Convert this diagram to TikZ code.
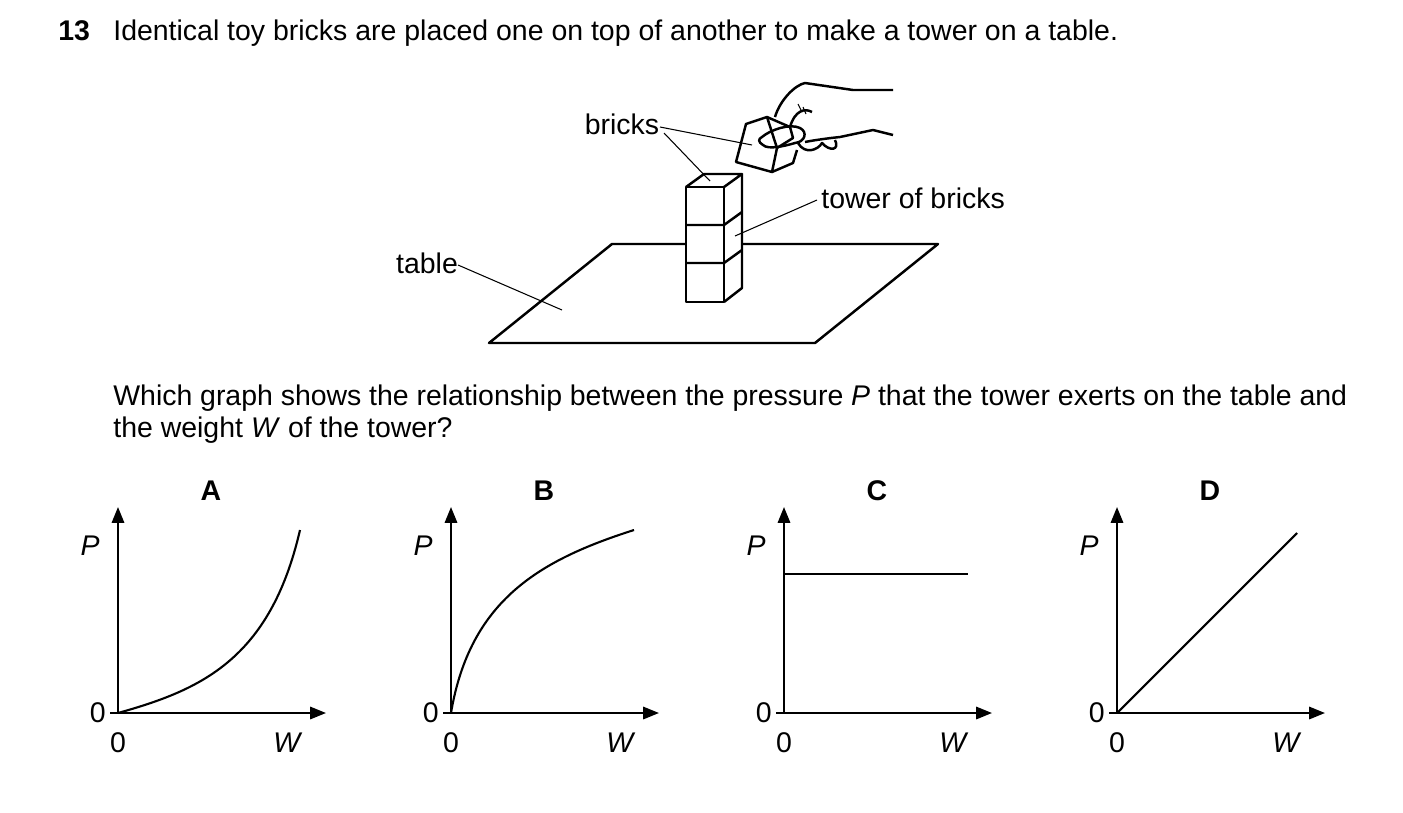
\documentclass[tikz,border=0pt]{standalone}
\usepackage{fontspec}
\setmainfont{Liberation Sans}
\usetikzlibrary{arrows.meta,calc}
\begin{document}
\begin{tikzpicture}[x=0.02cm,y=-0.02cm,
  txt/.style={font=\fontsize{16.2}{18.7}\selectfont, inner sep=0pt},
  lead/.style={line width=0.6pt},
  edge/.style={line width=1.4pt, line join=round},
  axis/.style={-{Triangle[length=9pt,width=7pt]}, line width=1.2pt},
  curve/.style={line width=1.2pt}
]
  \useasboundingbox (0,0) rectangle (1403,812);
  % heading and question
  \node[txt, anchor=base west] (num) at (58,40) {\textbf{13}};
  \node[txt, anchor=base west] (intro) at (113,40) {Identical toy bricks are placed one on top of another to make a tower on a table.};
  \node[txt, anchor=base west] (question) at (113,405)
    {\parbox[t]{24.68cm}{\fontsize{16.2}{18.7}\selectfont Which graph shows the relationship between the pressure \textit{P} that the tower exerts on the table and the weight \textit{W} of the tower?}};

  % table
  \draw[edge] (686,244) -- (612,244) -- (489,343) -- (815,343) -- (938,244) -- (742,244);
  % tower
  \draw[edge, fill=white] (686,187) rectangle (724,302);
  \draw[edge] (686,187) -- (704,174) -- (742,174) -- (724,187);
  \draw[edge] (742,174) -- (742,288) -- (724,302);
  \draw[edge] (686,225) -- (724,225) -- (742,212);
  \draw[edge] (686,263) -- (724,263) -- (742,250);
  % brick in hand
  \draw[edge, fill=white] (746,124) -- (767,117) -- (790,127) -- (793,138) -- (777,148) -- (772,172) -- (736,162) -- cycle;
  \draw[edge] (777,148) -- (767,117);
  \draw[edge] (772,172) -- (793,163) -- (797,150);
  % hand
  \draw[edge] (775,117) .. controls (780,100) and (795,85) .. (805,83) -- (853,90) -- (893,90);
  \draw[edge] (762,137) .. controls (770,130) and (790,123) .. (800,128)
    .. controls (808,132) and (805,142) .. (795,143) .. controls (785,146) and (768,150) .. (763,145)
    .. controls (758,142) and (758,139) .. (762,137);
  \draw[edge] (805,142) .. controls (815,140) and (830,138) .. (840,137) -- (873,130) -- (893,135);
  \draw[edge] (798,143) .. controls (805,155) and (818,150) .. (822,143) .. controls (830,152) and (840,150) .. (835,140);
  \draw[edge] (790,127) .. controls (795,110) and (805,108) .. (812,112);
  \draw[lead] (798,104) -- (802,112) (803,107) -- (806,114);
  % labels
  \node[txt, anchor=base] (lbricks) at (622,134) {bricks};
  \coordinate (heldbrick) at (752,145);
  \coordinate (topbrick) at (710,181);
  \draw[lead] (660,127) -- (heldbrick);
  \draw[lead] (664,133) -- (topbrick);
  \node[txt, anchor=base west] (ltower) at (821,208) {tower of bricks};
  \coordinate (midbrick) at (735,236);
  \draw[lead] (817,200) -- (midbrick);
  \node[txt, anchor=base] (ltable) at (427,273) {table};
  \coordinate (tabletop) at (562,310);
  \draw[lead] (458,265) -- (tabletop);

  % graphs
  \foreach \gx/\gl [count=\i] in {118/A,451/B,784/C,1117/D}{
    \coordinate (o\i) at (\gx,713);
    \draw[axis] (o\i) -- (\gx,507);
    \draw[axis] (o\i) -- ($(o\i)+(208,0)$);
    \draw[curve] (o\i) -- ++(-8,0);
    \node[txt, anchor=base] at (\gx+93,500) {\textbf{\gl}};
    \node[txt, anchor=base] at (\gx-28,555) {\textit{P}};
    \node[txt, anchor=east] at (\gx-12,713) {0};
    \node[txt, anchor=base] at (\gx,752) {0};
    \node[txt, anchor=base] at (\gx+170,752) {\textit{W}};
  }
  \draw[curve] (o1) .. controls (200,690) and (270,660) .. (300,530);
  \draw[curve] (o2) .. controls (470,600) and (540,560) .. (634,530);
  \draw[curve] (784,574) -- (968,574);
  \draw[curve] (o4) -- (1297,533);
\end{tikzpicture}
\end{document}
